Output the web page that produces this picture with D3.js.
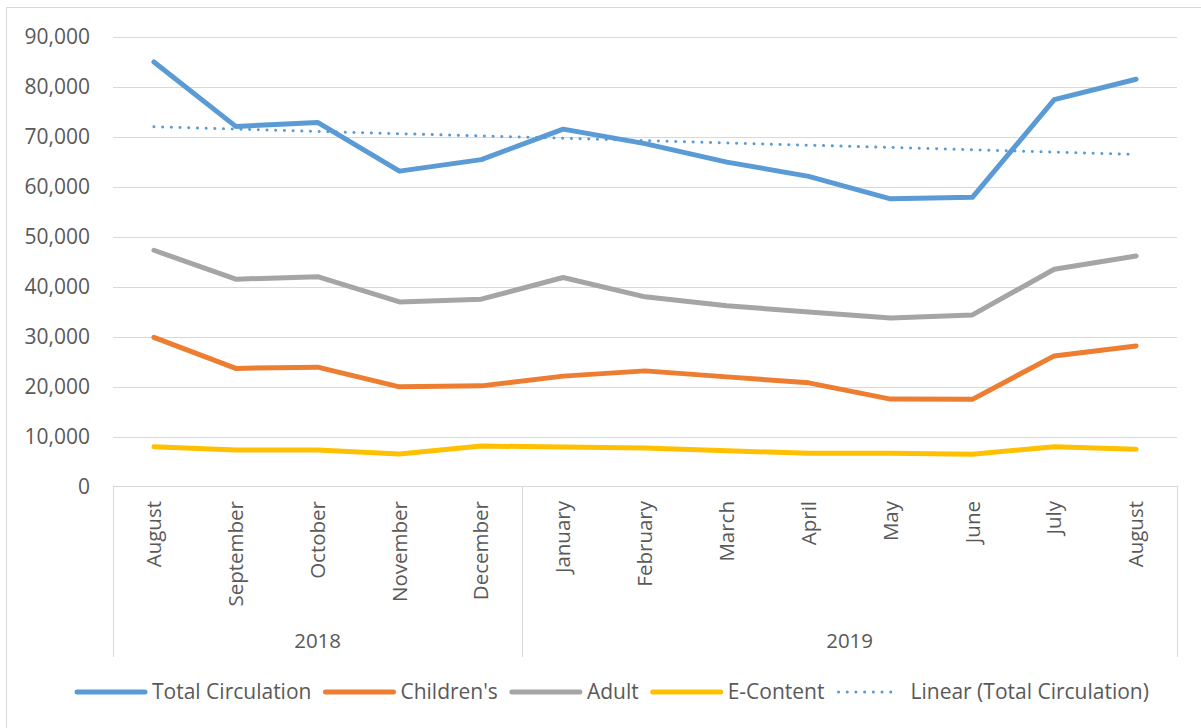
<!DOCTYPE html>
<head>
    <meta charset="utf-8">
    <style>
        body { margin: 0; background: #fff; }
        text {
            font-family: "Open Sans", sans-serif;
            fill: #595959;
        }
        .grid line { stroke: #d9d9d9; stroke-width: 1; }
        .series { fill: none; stroke-width: 5; stroke-linejoin: round; stroke-linecap: round; }
    </style>
</head>
<body>
    <svg width="1201" height="728"></svg>
    <script src="https://d3js.org/d3.v7.min.js"></script>
    <script>

    // data
    var months = ["August", "September", "October", "November", "December",
                  "January", "February", "March", "April", "May", "June", "July", "August"];
    var years = [{label: "2018", from: 0, to: 5}, {label: "2019", from: 5, to: 13}];
    var totalCirculation = [85000, 72100, 72900, 63150, 65450, 71550, 68650, 64950, 62100, 57600, 57900, 77450, 81550];
    var childrens = [29850, 23650, 23900, 19950, 20150, 22100, 23150, 21950, 20750, 17500, 17450, 26150, 28150];
    var adult = [47300, 41500, 42000, 36950, 37500, 41850, 37980, 36170, 34960, 33760, 34360, 43500, 46150];
    var eContent = [7960, 7300, 7300, 6500, 8100, 7900, 7700, 7150, 6650, 6640, 6440, 7960, 7440];
    var yTicks = [0, 10000, 20000, 30000, 40000, 50000, 60000, 70000, 80000, 90000];

    var seriesNames = ["Total Circulation", "Children's", "Adult", "E-Content"];
    var seriesColors = ["#5b9bd5", "#ed7d31", "#a5a5a5", "#ffc000"];
    var seriesValues = [totalCirculation, childrens, adult, eContent];

    var svg = d3.select("svg");
    var plotLeft = 113, plotRight = 1177, plotTop = 37, plotBottom = 486.5;

    // outer chart border
    svg.append("rect")
        .attr("x", 6.5).attr("y", 7.5)
        .attr("width", 1200).attr("height", 730)
        .attr("fill", "none").attr("stroke", "#d9d9d9");

    var x = d3.scaleBand().domain(d3.range(months.length)).range([plotLeft, plotRight]);
    var y = d3.scaleLinear().domain([0, 90000]).range([plotBottom, plotTop]);
    var cx = function(i) { return x(i) + x.bandwidth() / 2; };
    var edge = function(i) { return i < months.length ? x(i) : plotRight; };

    // gridlines + y labels
    var grid = svg.append("g").attr("class", "grid");
    grid.selectAll("line").data(yTicks.slice(1)).enter().append("line")
        .attr("x1", plotLeft).attr("x2", plotRight)
        .attr("y1", function(d) { return Math.round(y(d)) + 0.5; })
        .attr("y2", function(d) { return Math.round(y(d)) + 0.5; });

    svg.append("g").selectAll("text").data(yTicks).enter().append("text")
        .attr("x", 90)
        .attr("y", function(d) { return y(d); })
        .attr("dy", "0.35em")
        .attr("text-anchor", "end")
        .style("font-size", "21px")
        .text(function(d) { return d3.format(",")(d); });

    // category axis (two levels)
    var axis = svg.append("g").attr("stroke", "#d9d9d9").attr("stroke-width", 1);
    axis.append("line").attr("x1", plotLeft).attr("x2", plotRight).attr("y1", 486.5).attr("y2", 486.5);
    var dividers = [0].concat(years.map(function(d) { return d.to; }));
    axis.selectAll(".div").data(dividers).enter().append("line")
        .attr("x1", function(d) { return Math.round(edge(d)) + 0.5; })
        .attr("x2", function(d) { return Math.round(edge(d)) + 0.5; })
        .attr("y1", 486).attr("y2", 657);

    svg.append("g").selectAll("text").data(months).enter().append("text")
        .attr("transform", function(d, i) { return "translate(" + cx(i) + ",501) rotate(-90)"; })
        .attr("dy", "0.35em")
        .attr("text-anchor", "end")
        .style("font-size", "20.5px")
        .text(function(d) { return d; });

    svg.append("g").selectAll("text").data(years).enter().append("text")
        .attr("x", function(d) { return (edge(d.from) + edge(d.to)) / 2; })
        .attr("y", 641)
        .attr("dy", "0.35em")
        .attr("text-anchor", "middle")
        .style("font-size", "20.5px")
        .text(function(d) { return d.label; });

    // linear trend of total circulation (least squares)
    var n = totalCirculation.length;
    var mx = d3.mean(d3.range(n)), my = d3.mean(totalCirculation);
    var slope = d3.sum(totalCirculation, function(v, i) { return (i - mx) * (v - my); }) /
                d3.sum(d3.range(n), function(i) { return (i - mx) * (i - mx); });
    var trend = d3.range(n).map(function(i) { return my + slope * (i - mx); });

    var line = d3.line()
        .x(function(d, i) { return cx(i); })
        .y(function(d) { return y(d); });

    svg.append("g").selectAll("path").data(seriesValues).enter().append("path")
        .attr("class", "series")
        .attr("stroke", function(d, i) { return seriesColors[i]; })
        .attr("d", line);

    svg.append("path")
        .attr("d", line(trend))
        .attr("fill", "none")
        .attr("stroke", "#5b9bd5")
        .attr("stroke-width", 3)
        .attr("stroke-linecap", "round")
        .attr("stroke-dasharray", "0.1 8.6");

    // legend
    var legendItems = seriesNames.map(function(name, i) {
        return {name: name, color: seriesColors[i], dotted: false};
    });
    legendItems.push({name: "Linear (Total Circulation)", color: "#5b9bd5", dotted: true});

    var lx = 75, ly = 692;
    legendItems.forEach(function(item) {
        var g = svg.append("g");
        var len = item.dotted ? 61 : 72;
        g.append("line")
            .attr("x1", lx + 2).attr("x2", lx + len - 2)
            .attr("y1", ly).attr("y2", ly)
            .attr("stroke", item.color)
            .attr("stroke-width", item.dotted ? 3 : 5)
            .attr("stroke-linecap", "round")
            .attr("stroke-dasharray", item.dotted ? "0.1 8.6" : null);
        var t = g.append("text")
            .attr("x", lx + len + (item.dotted ? 13 : 5))
            .attr("y", ly)
            .attr("dy", "0.35em")
            .style("font-size", "21px")
            .text(item.name);
        lx = lx + len + (item.dotted ? 13 : 5) + t.node().getComputedTextLength() + 12;
    });
    </script>
</body>
